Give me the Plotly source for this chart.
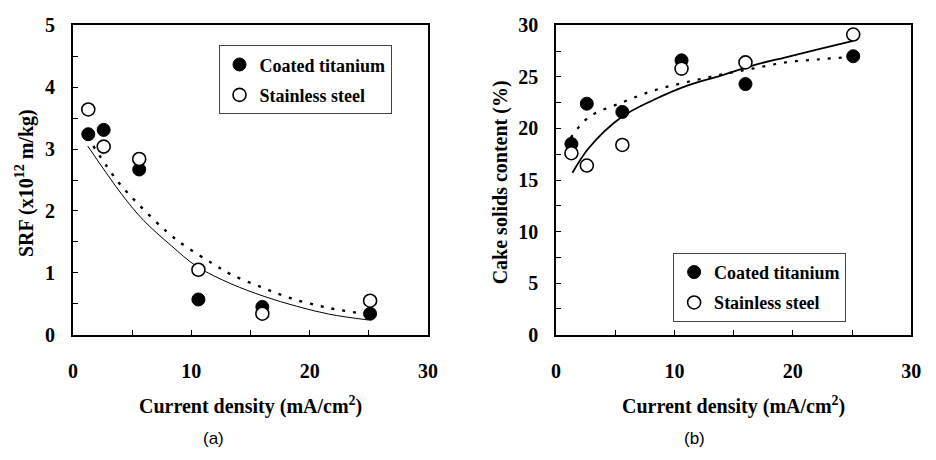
import plotly.graph_objects as go

W, H = 936, 460

# ---------------- data ----------------
current_density = [1.3, 2.6, 5.6, 10.6, 16.0, 25.1]

srf_titanium = [3.24, 3.31, 2.67, 0.57, 0.45, 0.34]
srf_steel = [3.64, 3.04, 2.84, 1.05, 0.34, 0.55]

cake_titanium = [18.5, 22.4, 21.6, 26.6, 24.3, 27.0]
cake_steel = [17.6, 16.4, 18.4, 25.8, 26.4, 29.1]

# trend curves
srf_fit_ti_x = [1.25, 4.16, 5.96, 8.3, 10.5, 13.4, 16.15, 18.9, 21.7, 24.9]
srf_fit_ti_y = [3.05, 2.26, 1.85, 1.44, 1.10, 0.82, 0.62, 0.46, 0.33, 0.24]
srf_fit_ss_x = [1.72, 3.74, 5.68, 7.9, 9.42, 11.8, 13.4, 15.9, 18.4, 21.4, 24.2]
srf_fit_ss_y = [3.05, 2.49, 2.08, 1.67, 1.44, 1.15, 0.97, 0.77, 0.59, 0.44, 0.35]

cake_fit_ti_x = [1.39, 2.77, 5.54, 8.31, 11.08, 13.86, 16.6, 19.4, 22.2, 25.1]
cake_fit_ti_y = [15.7, 18.1, 21.1, 22.8, 24.15, 25.1, 26.1, 26.9, 27.7, 28.5]
cake_fit_ss_x = [1.25, 2.77, 5.54, 8.31, 11.08, 13.86, 16.6, 19.4, 22.2, 24.7]
cake_fit_ss_y = [19.1, 21.1, 22.5, 23.7, 24.5, 25.2, 25.8, 26.4, 26.7, 26.9]

series_names = ["Coated titanium", "Stainless steel"]
panel_labels = ["(a)", "(b)"]
x_title = "Current density (mA/cm<sup>2</sup>)"
y_titles = ["SRF (x10<sup>12</sup> m/kg)", "Cake solids content (%)"]

# ---------------- layout helpers ----------------
def px_x(p):
    return p / W

def px_y(p):
    return 1 - p / H

SERIF = "Liberation Serif, Times New Roman, serif"
SANS = "Liberation Sans, Arial, sans-serif"
FS = 20
LFS = 18

fig = go.Figure()

filled = dict(symbol="circle", size=13, color="black", line=dict(color="black", width=1))
hollow = dict(symbol="circle", size=13, color="white", line=dict(color="black", width=1.6))

# ---- panel (a)
fig.add_trace(go.Scatter(x=srf_fit_ti_x, y=srf_fit_ti_y, mode="lines", line=dict(color="black", width=1, shape="spline"),
                         showlegend=False, xaxis="x", yaxis="y"))
fig.add_trace(go.Scatter(x=srf_fit_ss_x, y=srf_fit_ss_y, mode="lines",
                         line=dict(color="black", width=2.4, dash="3px,8px", shape="spline"),
                         showlegend=False, xaxis="x", yaxis="y"))
fig.add_trace(go.Scatter(x=current_density, y=srf_titanium, mode="markers", marker=filled, name=series_names[0],
                         legend="legend", legendgroup="a1", xaxis="x", yaxis="y"))
fig.add_trace(go.Scatter(x=current_density, y=srf_steel, mode="markers", marker=hollow, name=series_names[1],
                         legend="legend", legendgroup="a2", xaxis="x", yaxis="y"))

# ---- panel (b)
fig.add_trace(go.Scatter(x=cake_fit_ti_x, y=cake_fit_ti_y, mode="lines", line=dict(color="black", width=1.8, shape="spline"),
                         showlegend=False, xaxis="x2", yaxis="y2"))
fig.add_trace(go.Scatter(x=cake_fit_ss_x, y=cake_fit_ss_y, mode="lines",
                         line=dict(color="black", width=2.2, dash="3px,8px", shape="spline"),
                         showlegend=False, xaxis="x2", yaxis="y2"))
fig.add_trace(go.Scatter(x=current_density, y=cake_titanium, mode="markers", marker=filled, name=series_names[0],
                         legend="legend2", legendgroup="b1", xaxis="x2", yaxis="y2"))
fig.add_trace(go.Scatter(x=current_density, y=cake_steel, mode="markers", marker=hollow, name=series_names[1],
                         legend="legend2", legendgroup="b2", xaxis="x2", yaxis="y2"))

tickfont = dict(family=SERIF, size=FS, color="black", weight="bold")

def xaxis(domain, anchor):
    return dict(domain=domain, anchor=anchor, range=[0, 30], dtick=10, tick0=0,
                showline=True, linecolor="black", linewidth=1.6, mirror=True,
                ticks="inside", ticklen=5, tickwidth=1.2, tickcolor="black",
                minor=dict(dtick=5, ticks="inside", ticklen=5, tickwidth=1.2, tickcolor="black", showgrid=False),
                showgrid=False, zeroline=False, tickfont=tickfont, ticklabelstandoff=17, fixedrange=True)

def yaxis(domain, anchor, rng, dt, mdt):
    return dict(domain=domain, anchor=anchor, range=rng, dtick=dt, tick0=0,
                showline=True, linecolor="black", linewidth=1.6, mirror=True,
                ticks="inside", ticklen=5, tickwidth=1.2, tickcolor="black",
                minor=dict(dtick=mdt, ticks="inside", ticklen=5, tickwidth=1.2, tickcolor="black", showgrid=False),
                showgrid=False, zeroline=False, tickfont=tickfont, ticklabelstandoff=12, fixedrange=True)

ydom = [px_y(340), px_y(15)]

legend_common = dict(font=dict(family=SERIF, size=LFS, color="black", weight="bold"),
                     bgcolor="white", bordercolor="#444", borderwidth=1,
                     xanchor="left", yanchor="top", tracegroupgap=4, itemsizing="trace",
                     entrywidth=168, entrywidthmode="pixels")

fig.update_layout(
    width=W, height=H, autosize=False,
    margin=dict(l=0, r=0, t=0, b=0),
    paper_bgcolor="white", plot_bgcolor="white",
    xaxis=xaxis([px_x(69), px_x(430)], "y"),
    yaxis=yaxis(ydom, "x", [0, 5], 1, 0.5),
    xaxis2=xaxis([px_x(560), px_x(921)], "y2"),
    yaxis2=yaxis(ydom, "x2", [0, 30], 5, 2.5),
    legend=dict(x=px_x(217), y=px_y(36), **legend_common),
    legend2=dict(x=px_x(679), y=px_y(254), **legend_common),
    showlegend=True,
)

ann_font = dict(family=SERIF, size=FS, color="black", weight="bold")
annotations = [
    dict(text=x_title, x=px_x(249), y=px_y(414), xref="paper", yref="paper", showarrow=False,
         xanchor="center", yanchor="middle", font=ann_font),
    dict(text=x_title, x=px_x(740), y=px_y(414), xref="paper", yref="paper", showarrow=False,
         xanchor="center", yanchor="middle", font=ann_font),
    dict(text=y_titles[0], x=px_x(20), y=px_y(181), xref="paper", yref="paper", showarrow=False,
         xanchor="center", yanchor="middle", textangle=-90, font=ann_font),
    dict(text=y_titles[1], x=px_x(503), y=px_y(180), xref="paper", yref="paper", showarrow=False,
         xanchor="center", yanchor="middle", textangle=-90, font=ann_font),
    dict(text=panel_labels[0], x=px_x(212), y=px_y(449), xref="paper", yref="paper", showarrow=False,
         xanchor="center", yanchor="middle", font=dict(family=SANS, size=17, color="black")),
    dict(text=panel_labels[1], x=px_x(701), y=px_y(449), xref="paper", yref="paper", showarrow=False,
         xanchor="center", yanchor="middle", font=dict(family=SANS, size=17, color="black")),
]
fig.update_layout(annotations=annotations)

fig.write_html("out.html", config=dict(displayModeBar=False))
